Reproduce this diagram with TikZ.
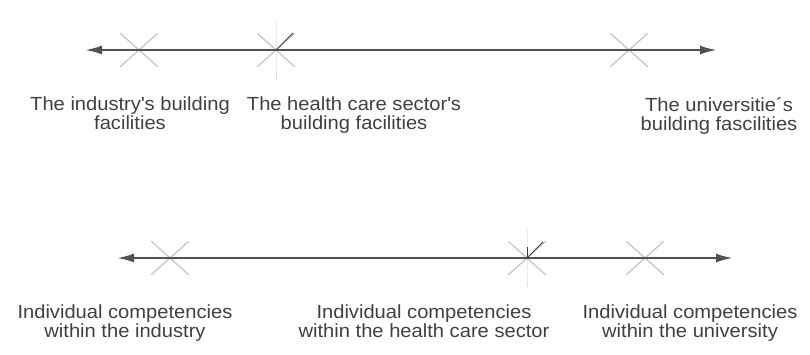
\documentclass[tikz,border=0pt]{standalone}
\usepackage{fontspec}
\setmainfont[FakeStretch=1.06]{Liberation Sans}
\usetikzlibrary{arrows.meta,positioning,shapes.misc}

\begin{document}
\begin{tikzpicture}[x=1pt, y=-1pt,
    axis/.style={draw=black!68, line width=2.2pt,
        {Latex[length=17pt,width=9pt]}-{Latex[length=17pt,width=9pt]}},
    xcross/.style={cross out, draw=black!22, line width=1.3pt, inner sep=0pt,
        minimum width=36pt, minimum height=32pt},
    faint/.style={draw=black!12, line width=1pt},
    tick/.style={draw=black!75, line width=0.9pt},
    lbl/.style={align=center, anchor=north, inner sep=0pt, text=black!75,
        font=\fontsize{19}{19}\selectfont}]
    \useasboundingbox (0,0) rectangle (810,354);

    % building facilities
    \node[xcross] (ind-b) at (139,50) {};
    \node[xcross] (hc-b) at (276,50) {};
    \node[xcross] (uni-b) at (629,50) {};
    \draw[faint] (hc-b.north) ++(0,-12) -- (hc-b.south) -- ++(0,12);
    \coordinate (b-left) at (85,50);
    \coordinate (b-right) at (717,50);
    \draw[axis] (b-left) -- (b-right);
    \draw[tick] (hc-b.center) -- ++(17,-17);

    \node[lbl] (ind-b-lbl) at (130,97) {The industry\textquotesingle s building\\facilities};
    \node[lbl] (hc-b-lbl) at (354,97) {The health care sector\textquotesingle s\\building facilities};
    \node[lbl] (uni-b-lbl) at (719,97) {The universitie´s\\building fascilities};

    % individual competencies
    \node[xcross] (ind-c) at (170,258) {};
    \node[xcross] (hc-c) at (527,258) {};
    \node[xcross] (uni-c) at (645,258) {};
    \draw[faint] (hc-c.north) ++(0,-12) -- (hc-c.south) -- ++(0,12);
    \coordinate (c-left) at (117,258);
    \coordinate (c-right) at (733,258);
    \draw[axis] (c-left) -- (c-right);
    \draw[tick] (hc-c.center) -- ++(16,-16);
    \draw[tick] (hc-c.center) -- ++(0,-11);

    \node[lbl] (ind-c-lbl) at (125,305) {Individual competencies\\within the industry};
    \node[lbl] (hc-c-lbl) at (424,305) {Individual competencies\\within the health care sector};
    \node[lbl] (uni-c-lbl) at (690,305) {Individual competencies\\within the university};
\end{tikzpicture}
\end{document}
